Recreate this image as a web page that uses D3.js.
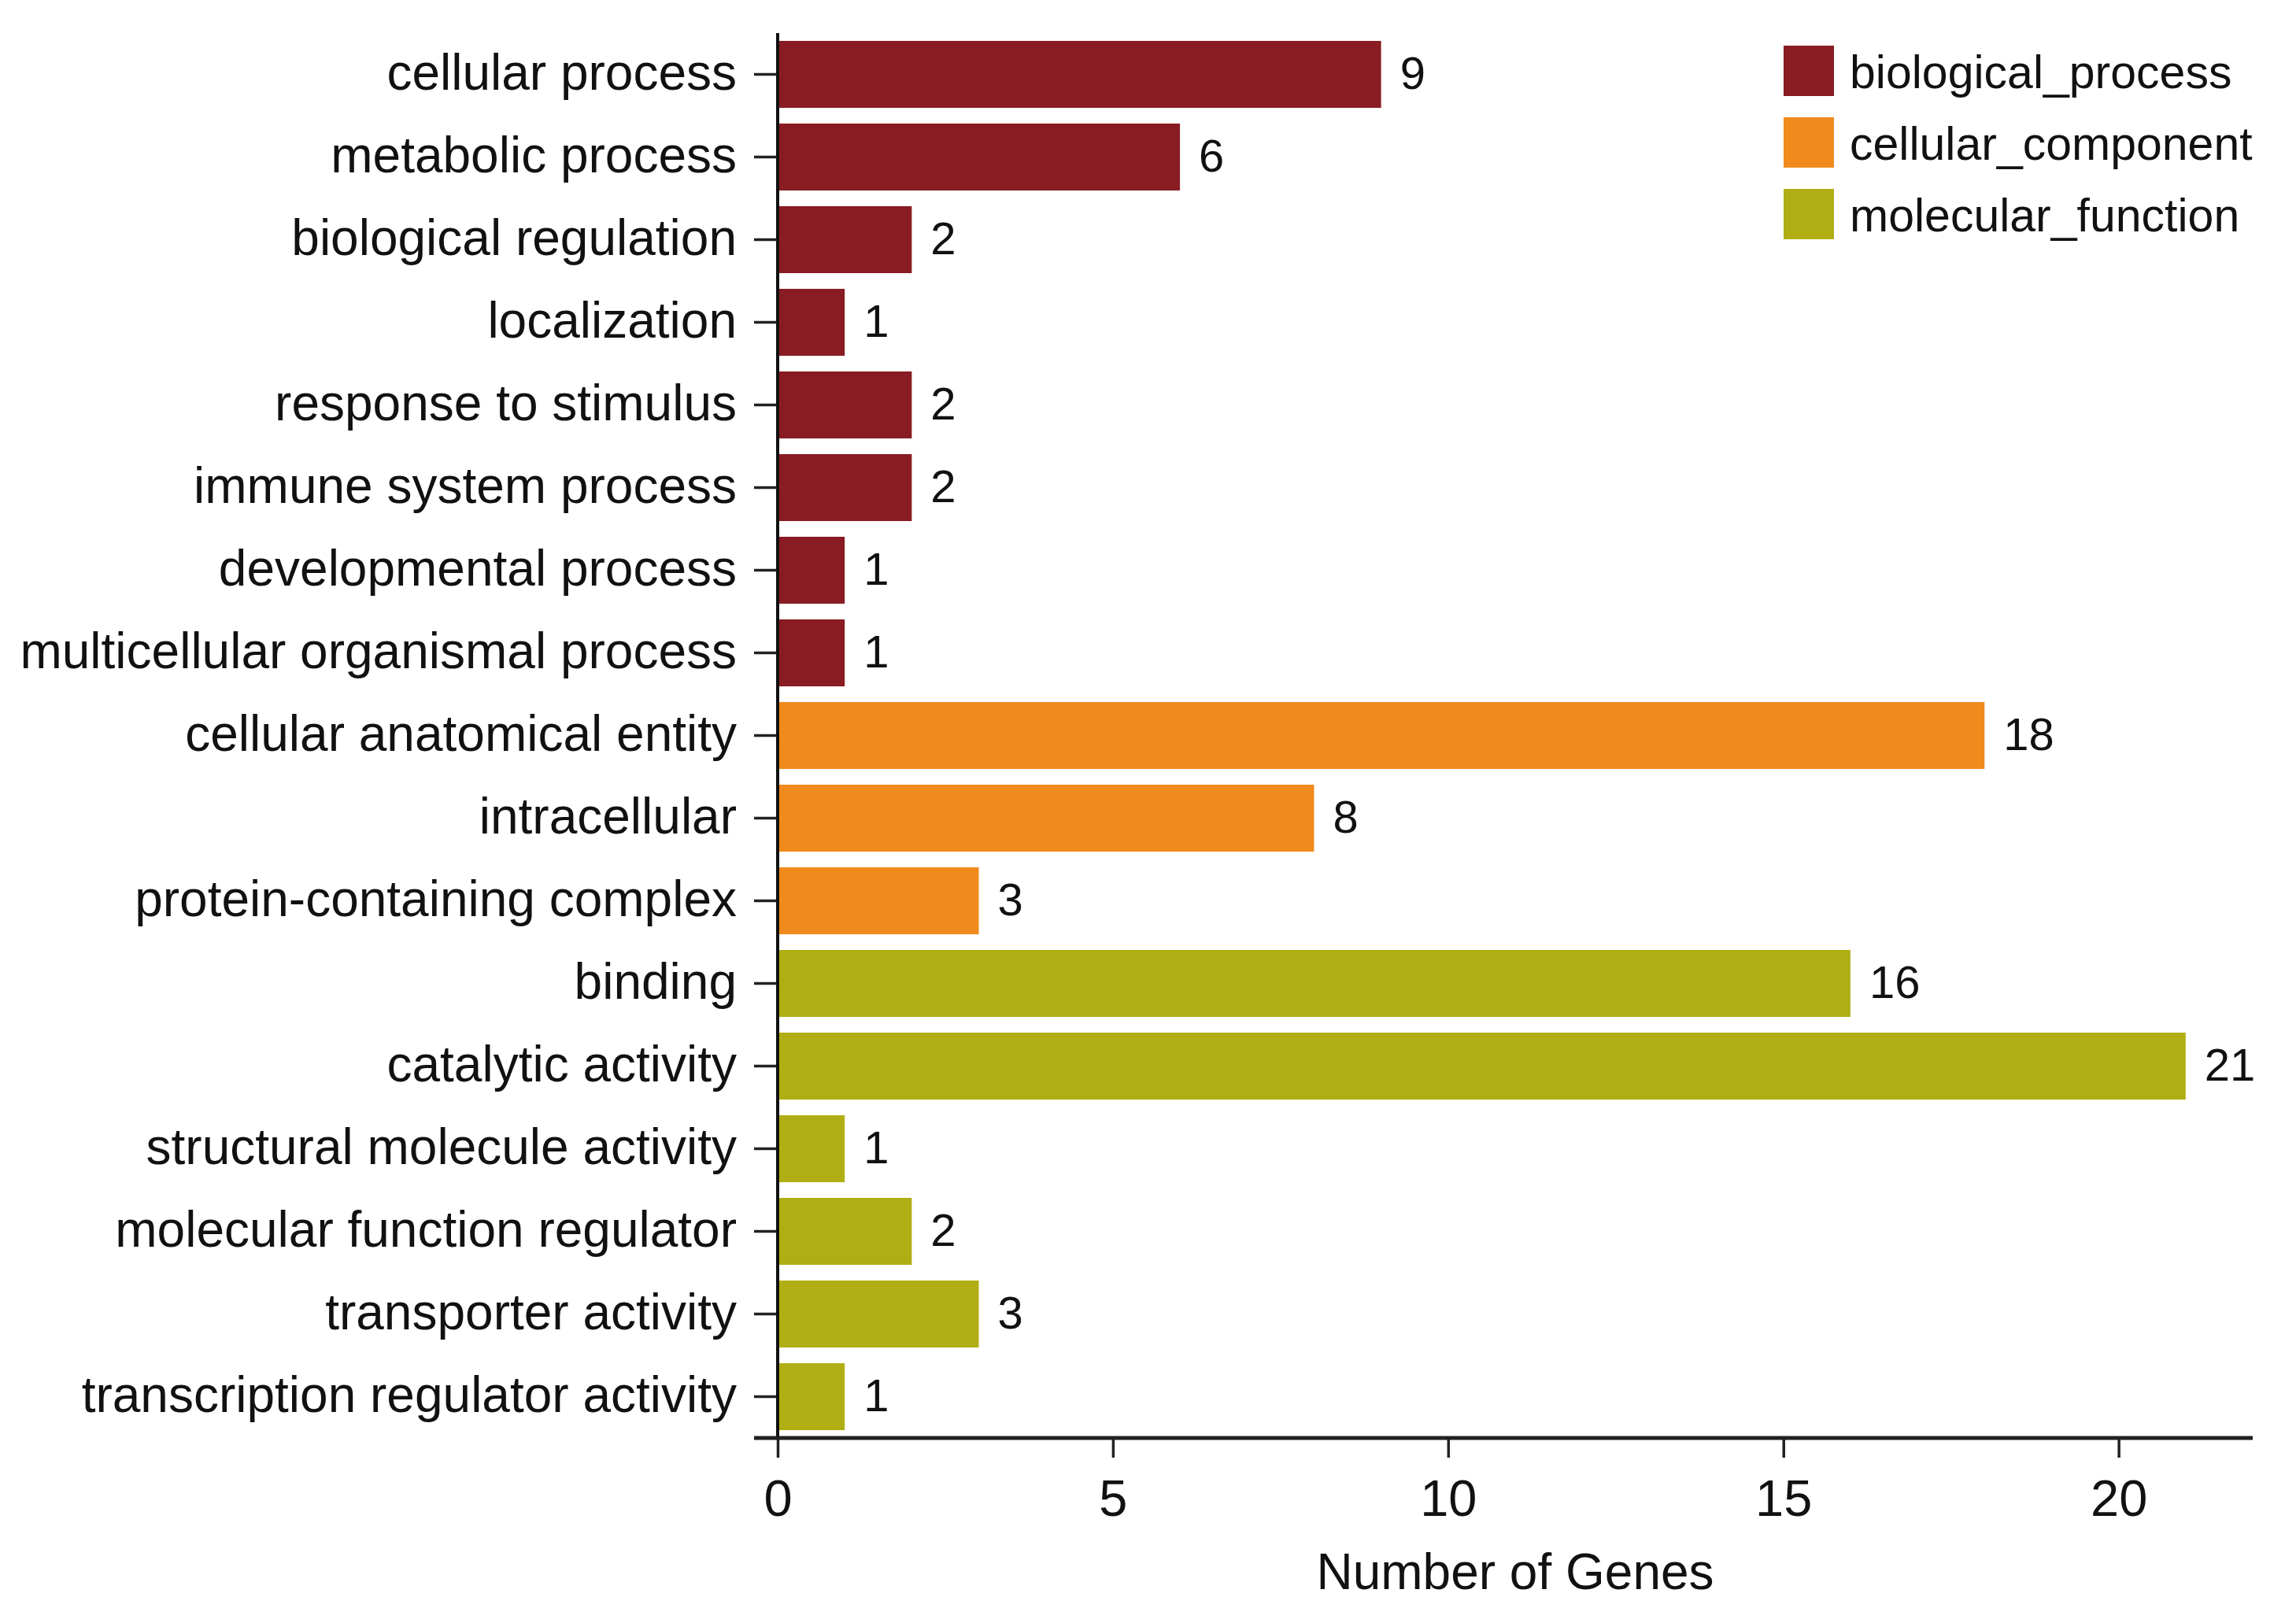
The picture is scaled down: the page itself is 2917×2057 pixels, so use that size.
<!DOCTYPE html>
<html>
<head>
<meta charset="utf-8">
<script src="https://cdn.jsdelivr.net/npm/d3@7"></script>
<style>
  html, body { margin: 0; padding: 0; background: #fff; }
  svg { display: block; }
  text { font-family: "Liberation Sans", Arial, Helvetica, sans-serif; fill: #111; }
</style>
</head>
<body>
<svg id="chart" width="2917" height="2057"></svg>
<script>
const categories = [
  "cellular process", "metabolic process", "biological regulation", "localization",
  "response to stimulus", "immune system process", "developmental process",
  "multicellular organismal process", "cellular anatomical entity", "intracellular",
  "protein-containing complex", "binding", "catalytic activity",
  "structural molecule activity", "molecular function regulator",
  "transporter activity", "transcription regulator activity"
];
const values = [9, 6, 2, 1, 2, 2, 1, 1, 18, 8, 3, 16, 21, 1, 2, 3, 1];
const groups = [
  "biological_process", "biological_process", "biological_process", "biological_process",
  "biological_process", "biological_process", "biological_process", "biological_process",
  "cellular_component", "cellular_component", "cellular_component",
  "molecular_function", "molecular_function", "molecular_function", "molecular_function",
  "molecular_function", "molecular_function"
];
const groupNames = ["biological_process", "cellular_component", "molecular_function"];
const groupColors = ["#881C22", "#F08A1C", "#B0AE14"];
const xTicks = [0, 5, 10, 15, 20];
const xTitle = "Number of Genes";

const svg = d3.select("#chart");
const x0 = 988, x1 = 2862, yTop = 42, yBot = 1827;

const x = d3.scaleLinear().domain([0, 22]).range([x0, x1]);
const y = d3.scaleBand().domain(categories).range([yTop, yBot])
  .paddingInner(0.19).paddingOuter(0.095);
const color = d3.scaleOrdinal().domain(groupNames).range(groupColors);

const data = categories.map((c, i) => ({ cat: c, val: values[i], grp: groups[i] }));

// bars
svg.append("g").selectAll("rect").data(data).join("rect")
  .attr("x", x(0))
  .attr("y", d => y(d.cat))
  .attr("width", d => x(d.val) - x(0))
  .attr("height", y.bandwidth())
  .attr("fill", d => color(d.grp));

// value labels
svg.append("g").selectAll("text").data(data).join("text")
  .attr("x", d => x(d.val) + 24)
  .attr("y", d => y(d.cat) + y.bandwidth() / 2)
  .attr("dy", "0.32em")
  .attr("font-size", 58)
  .text(d => d.val);

// y axis
const yAxis = d3.axisLeft(y).tickSize(30).tickPadding(22).tickSizeOuter(0);
const gy = svg.append("g").attr("transform", `translate(${x0},0)`).call(yAxis);
gy.select(".domain").remove();
gy.selectAll(".tick line").attr("stroke", "#222").attr("stroke-width", 3.5);
gy.selectAll(".tick text").attr("font-size", 64).attr("fill", "#111")
  .attr("font-family", "'Liberation Sans', Arial, sans-serif").attr("dy", "0.3em");

// x axis
const xAxis = d3.axisBottom(x).tickValues(xTicks).tickSize(25).tickPadding(28).tickSizeOuter(0);
const gx = svg.append("g").attr("transform", `translate(0,${yBot})`).call(xAxis);
gx.select(".domain").remove();
gx.selectAll(".tick line").attr("stroke", "#222").attr("stroke-width", 3.5);
gx.selectAll(".tick text").attr("font-size", 65).attr("fill", "#111")
  .attr("font-family", "'Liberation Sans', Arial, sans-serif");

// axis lines
svg.append("line").attr("x1", x0).attr("x2", x0).attr("y1", yTop).attr("y2", yBot)
  .attr("stroke", "#111").attr("stroke-width", 4);
svg.append("line").attr("x1", x0 - 30).attr("x2", x1).attr("y1", yBot).attr("y2", yBot)
  .attr("stroke", "#222").attr("stroke-width", 5);

// x title
svg.append("text")
  .attr("x", (x0 + x1) / 2).attr("y", 2019)
  .attr("text-anchor", "middle").attr("font-size", 64)
  .text(xTitle);

// legend
const lg = svg.append("g").attr("transform", "translate(2266,58)");
const items = lg.selectAll("g").data(groupNames).join("g")
  .attr("transform", (d, i) => `translate(0,${i * 91})`);
items.append("rect").attr("width", 64).attr("height", 64).attr("fill", d => color(d));
items.append("text").attr("x", 84).attr("y", 32).attr("dy", "0.37em")
  .attr("font-size", 59).text(d => d);
</script>
</body>
</html>
